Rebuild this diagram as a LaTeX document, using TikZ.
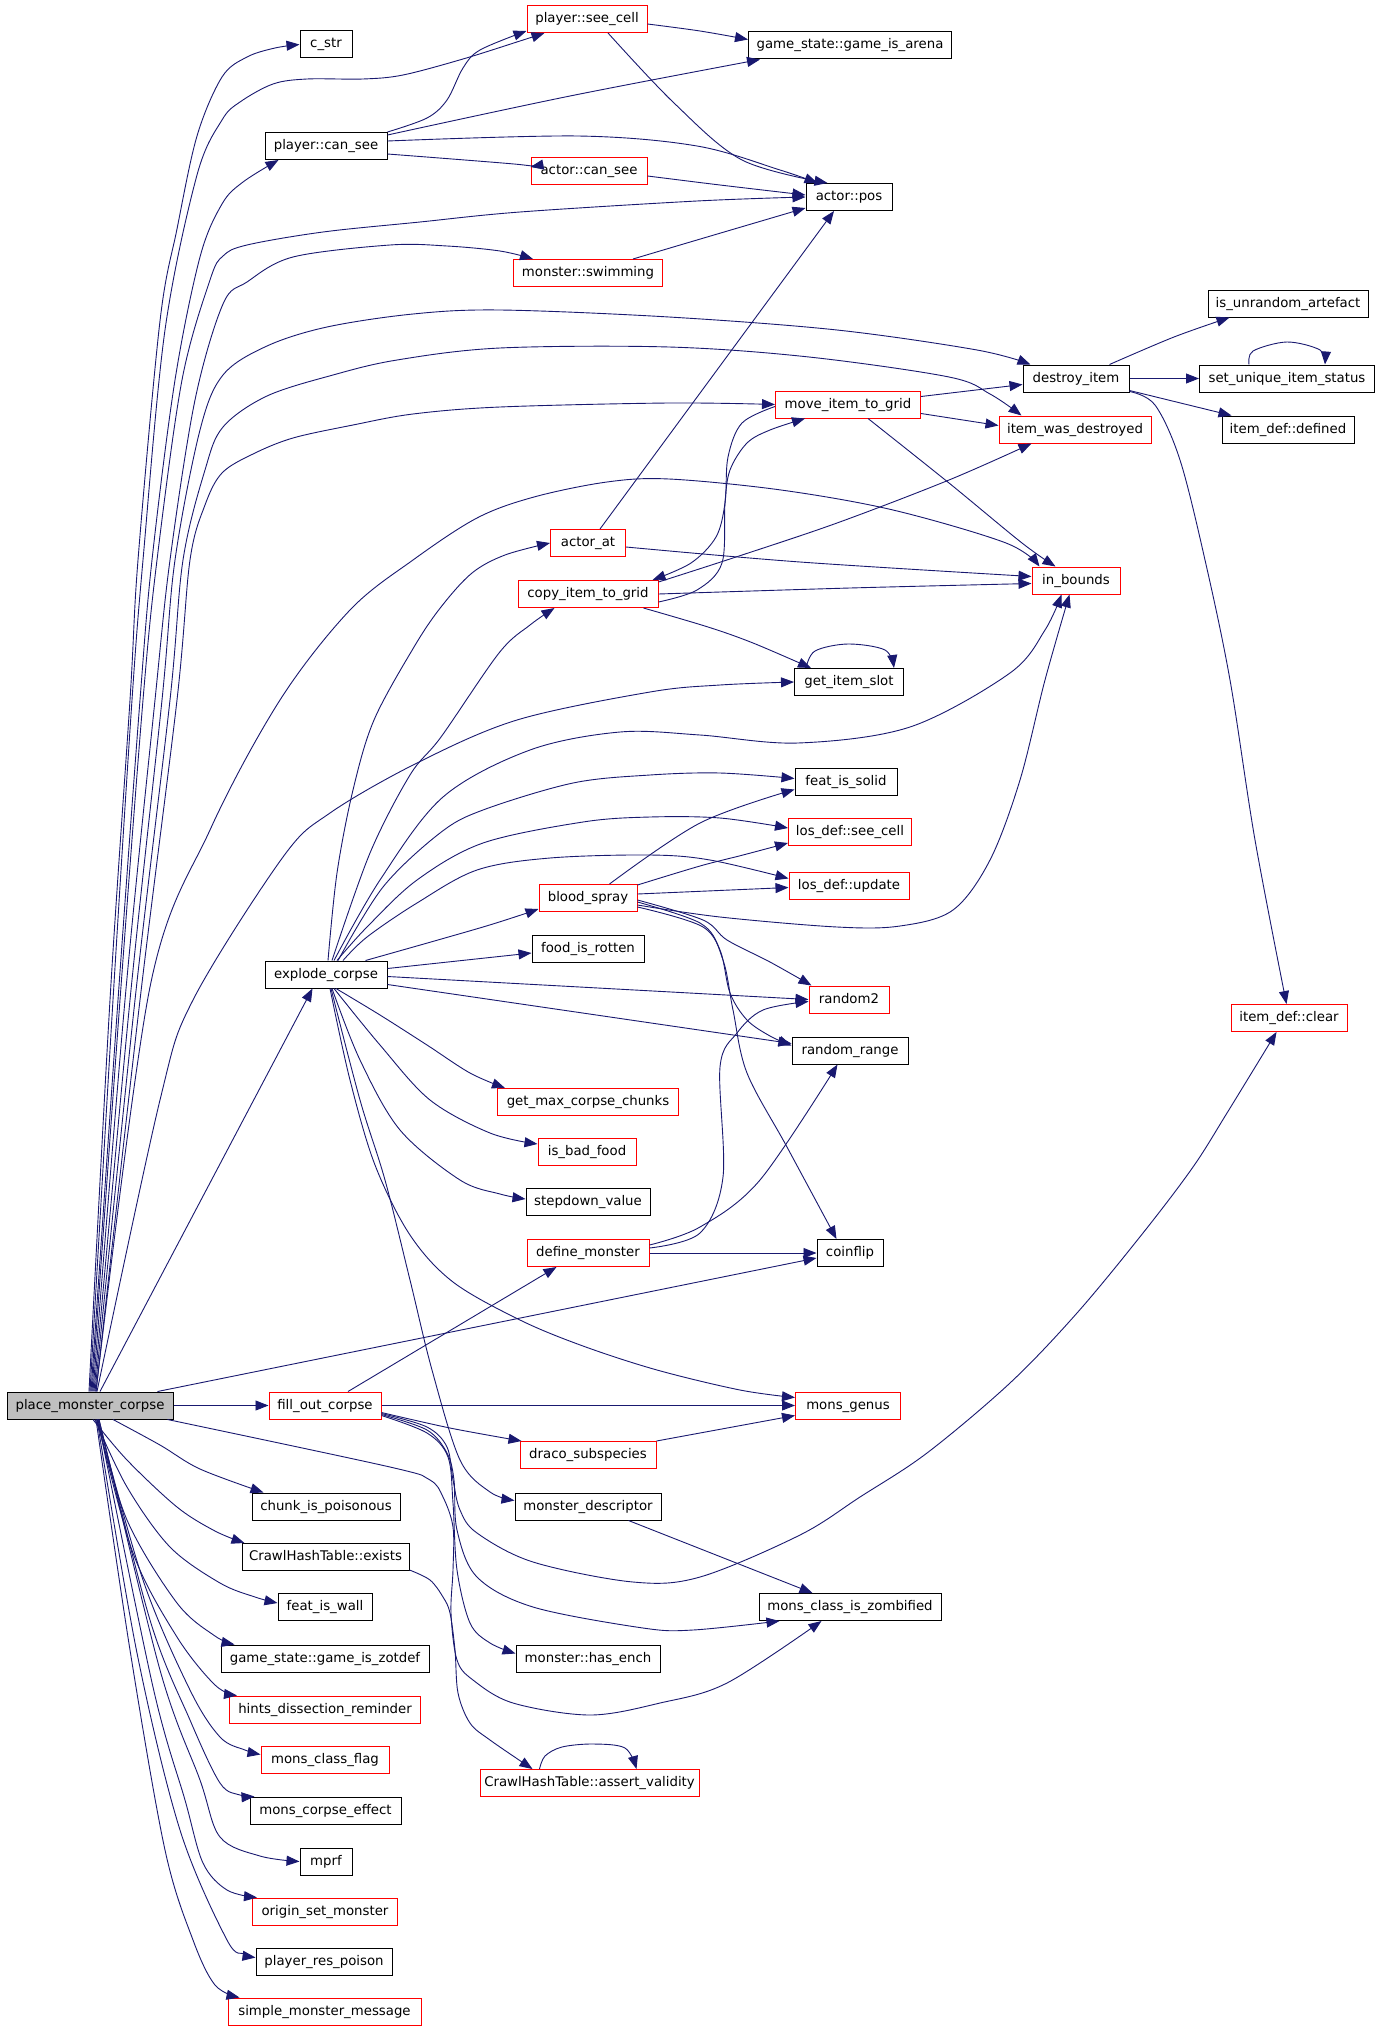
\documentclass[tikz,border=0pt]{standalone}
\usepackage{fontspec}
\setmainfont{DejaVu Sans}
\usetikzlibrary{arrows.meta,calc}
\definecolor{edgec}{HTML}{191970}
\definecolor{boxred}{HTML}{FF0000}
\definecolor{pmcfill}{HTML}{BFBFBF}
\begin{document}
\begin{tikzpicture}[x=1pt,y=-1pt,
  box/.style={draw=black, line width=1pt, rectangle, minimum height=27pt, inner sep=0pt, text height=10pt, text depth=3pt, font=\fontsize{13.3}{16}\selectfont},
  rbox/.style={box, draw=boxred},
  e/.style={draw=edgec, line width=0.9pt, -{Triangle[length=13pt,width=10pt]}},
  sm/.style={smooth, tension=0.55}]
\fill[white] (0,0) rectangle (1381,2031);
\useasboundingbox (0,0) rectangle (1381,2031);
% nodes
\node[box, fill=pmcfill, minimum width=166pt] (pmc) at (90,1405.5) {place\_monster\_corpse};
\node[box, minimum width=52pt] (cstr) at (326,44.5) {c\_str};
\node[rbox, minimum width=120pt] (seecell) at (587,19) {player::see\_cell};
\node[box, minimum width=203pt] (arena) at (850,45.5) {game\_state::game\_is\_arena};
\node[box, minimum width=122pt] (cansee) at (326,146) {player::can\_see};
\node[rbox, minimum width=116pt] (acansee) at (589,171) {actor::can\_see};
\node[box, minimum width=86pt] (apos) at (849,197) {actor::pos};
\node[rbox, minimum width=149pt] (swim) at (588,273) {monster::swimming};
\node[box, minimum width=160pt] (unrand) at (1288,303.5) {is\_unrandom\_artefact};
\node[box, minimum width=106pt] (destroy) at (1076,378.5) {destroy\_item};
\node[box, minimum width=175pt] (setuniq) at (1287,378.5) {set\_unique\_item\_status};
\node[rbox, minimum width=145pt] (move) at (848,404.5) {move\_item\_to\_grid};
\node[rbox, minimum width=152pt] (iwd) at (1075,429.5) {item\_was\_destroyed};
\node[box, minimum width=132pt] (defined) at (1288,429.5) {item\_def::defined};
\node[rbox, minimum width=75pt] (actorat) at (588,543) {actor\_at};
\node[rbox, minimum width=140pt] (copy) at (588,594) {copy\_item\_to\_grid};
\node[rbox, minimum width=88pt] (inb) at (1076,580.5) {in\_bounds};
\node[box, minimum width=109pt] (slot) at (849,682) {get\_item\_slot};
\node[box, minimum width=102pt] (solid) at (846,781.5) {feat\_is\_solid};
\node[rbox, minimum width=123pt] (lsee) at (850,832) {los\_def::see\_cell};
\node[rbox, minimum width=120pt] (lupd) at (849,885.5) {los\_def::update};
\node[rbox, minimum width=98pt] (blood) at (588,898) {blood\_spray};
\node[box, minimum width=112pt] (rotten) at (588,949) {food\_is\_rotten};
\node[box, minimum width=122pt] (explode) at (326,974.5) {explode\_corpse};
\node[rbox, minimum width=80pt] (random2) at (849,999.5) {random2};
\node[rbox, minimum width=116pt] (clear) at (1289,1018) {item\_def::clear};
\node[box, minimum width=116pt] (rrange) at (850,1050.5) {random\_range};
\node[rbox, minimum width=181pt] (gmcc) at (588,1102) {get\_max\_corpse\_chunks};
\node[rbox, minimum width=98pt] (badfood) at (587,1152) {is\_bad\_food};
\node[box, minimum width=124pt] (stepdown) at (588,1202) {stepdown\_value};
\node[rbox, minimum width=122pt] (define) at (588,1253) {define\_monster};
\node[box, minimum width=66pt] (coinflip) at (850,1253) {coinflip};
\node[rbox, minimum width=112pt] (fill) at (325,1405.5) {fill\_out\_corpse};
\node[rbox, minimum width=105pt] (genus) at (848,1405.5) {mons\_genus};
\node[rbox, minimum width=136pt] (draco) at (588,1455) {draco\_subspecies};
\node[box, minimum width=148pt] (chunk) at (326,1506.5) {chunk\_is\_poisonous};
\node[box, minimum width=146pt] (mdesc) at (588,1506.5) {monster\_descriptor};
\node[box, minimum width=167pt] (exists) at (325.5,1557) {CrawlHashTable::exists};
\node[box, minimum width=182pt] (zomb) at (850,1607) {mons\_class\_is\_zombified};
\node[box, minimum width=94pt] (wall) at (325,1607) {feat\_is\_wall};
\node[box, minimum width=208pt] (zotdef) at (325,1658.5) {game\_state::game\_is\_zotdef};
\node[box, minimum width=144pt] (ench) at (588,1658.5) {monster::has\_ench};
\node[rbox, minimum width=191pt] (hints) at (325,1709.5) {hints\_dissection\_reminder};
\node[rbox, minimum width=128pt] (flag) at (325,1759.5) {mons\_class\_flag};
\node[rbox, minimum width=219pt] (assert) at (589.5,1783) {CrawlHashTable::assert\_validity};
\node[box, minimum width=151pt] (ceff) at (325.5,1810.5) {mons\_corpse\_effect};
\node[box, minimum width=52pt] (mprf) at (326,1861.5) {mprf};
\node[rbox, minimum width=145pt] (origin) at (325,1911.5) {origin\_set\_monster};
\node[box, minimum width=136pt] (respoison) at (324,1961.5) {player\_res\_poison};
\node[rbox, minimum width=193pt] (simple) at (324.5,2011.5) {simple\_monster\_message};
% edges from place_monster_corpse (upwards)
\draw[e] plot[sm] coordinates {($(pmc.north)+(-1,0)$) (110,1000) (130,700) (138,560) (160,321) (177,229) (197,136) (222,77) (247,57) (275,48) (cstr.west)};
\draw[e] plot[sm] coordinates {($(pmc.north)+(0,0)$) (113,1000) (132,700) (143,560) (165,330) (197,175) (222,120) (240,102) (273,84) (307,79) (363,79) (403,75) (463,59) (520,41) ($(seecell.south west)+(18,0)$)};
\draw[e] plot[sm] coordinates {($(pmc.north)+(1,0)$) (118,1000) (140,700) (152,560) (175,380) (200,257) (222,204) (243,182) ($(cansee.south west)+(14,0)$)};
\draw[e] plot[sm] coordinates {($(pmc.north)+(2,0)$) (120,1000) (143,700) (157,560) (182,380) (210,280) (223,256) (247,245) (323,232) (420,222) (520,212) (697,201) (apos.west)};
\draw[e] plot[sm] coordinates {($(pmc.north)+(3,0)$) (125,1000) (155,700) (170,560) (195,400) (223,304) (247,282) (293,257) (390,245) (447,246) (500,251) ($(swim.north west)+(20,0)$)};
\draw[e] plot[sm] coordinates {($(pmc.north)+(4,0)$) (130,1000) (162,700) (175,560) (200,430) (223,375) (267,346) (327,327) (413,314) (500,310) (669,317) (837,330) (977,350) ($(destroy.north west)+(8,0)$)};
\draw[e] plot[sm] coordinates {($(pmc.north)+(5,0)$) (135,1000) (170,700) (183,560) (205,470) (223,427) (267,396) (333,375) (397,360) (500,348) (669,347) (809,357) (949,377) (990,394) ($(iwd.north west)+(23,0)$)};
\draw[e] plot[sm] coordinates {($(pmc.north)+(6,0)$) (140,1000) (177,700) (190,560) (205,505) (222,473) (253,454) (293,438) (353,425) (413,414) (500,407) (669,403) (move.west)};
\draw[e] plot[sm] coordinates {($(pmc.north)+(6,0)$) (150,987) (210,830) (280,700) (350,610) (413,560) (477,518) (534,497) (607,482) (669,479) (781,490) (893,510) (1006,543) ($(inb.north west)+(8,0)$)};
\draw[e] plot[sm] coordinates {($(pmc.north)+(7,0)$) (160,1100) (193,1000) (283,857) (330,813) (417,763) (517,720) (650,692) (720,685) (slot.west)};
\draw[e] ($(pmc.north)+(10,0)$) -- ($(explode.south west)+(48,0)$);
\draw[e] ($(pmc.north east)+(-16,0)$) -- ($(coinflip.west)+(0,5)$);
\draw[e] (pmc.east) -- (fill.west);
\draw[e] plot[sm] coordinates {($(pmc.south east)+(-6,0)$) (390,1467) (430,1480) (443,1497) (453,1527) (453,1570) (451,1613) (457,1660) (473,1680) (513,1703) (590,1715) (660,1703) (727,1683) ($(zomb.south west)+(63,0)$)};
% edges from place_monster_corpse (downwards)
\draw[e] plot[sm] coordinates {($(pmc.south)+(23,0)$) (160,1445) (200,1469) ($(chunk.north west)+(12,0)$)};
\draw[e] plot[sm] coordinates {($(pmc.south)+(3,0)$) (127,1460) (177,1507) (215,1531) ($(exists.north west)+(3,0)$)};
\draw[e] plot[sm] coordinates {($(pmc.south)+(5,0)$) (127,1487) (170,1547) (220,1583) (255,1597) ($(wall.west)+(0,-4)$)};
\draw[e] plot[sm] coordinates {($(pmc.south)+(7,0)$) (127,1520) (177,1603) (215,1636) ($(zotdef.north west)+(14,0)$)};
\draw[e] plot[sm] coordinates {($(pmc.south)+(7,0)$) (133,1553) (177,1637) (215,1685) ($(hints.north west)+(8,0)$)};
\draw[e] plot[sm] coordinates {($(pmc.south)+(8,0)$) (143,1580) (190,1690) (220,1737) (245,1750) ($(flag.west)+(0,-5)$)};
\draw[e] plot[sm] coordinates {($(pmc.south)+(9,0)$) (150,1620) (190,1720) (220,1783) (240,1795) ($(ceff.north west)+(5,0)$)};
\draw[e] plot[sm] coordinates {($(pmc.south)+(9,0)$) (160,1670) (200,1780) (220,1837) (260,1856) (mprf.west)};
\draw[e] plot[sm] coordinates {($(pmc.south)+(8,0)$) (153,1687) (185,1800) (203,1863) (227,1890) ($(origin.north west)+(5,0)$)};
\draw[e] plot[sm] coordinates {($(pmc.south)+(7,0)$) (137,1653) (180,1830) (227,1940) (245,1954) ($(respoison.west)+(0,-4)$)};
\draw[e] plot[sm] coordinates {($(pmc.south)+(6,0)$) (130,1650) (165,1850) (193,1940) (215,1985) ($(simple.north west)+(12,0)$)};
% fill_out_corpse
\draw[e] ($(fill.north)+(23,0)$) -- ($(define.south west)+(30,0)$);
\draw[e] (fill.east) -- (genus.west);
\draw[e] plot[sm] coordinates {($(fill.east)+(0,7)$) (450,1428) ($(draco.north west)+(2,0)$)};
\draw[e] ($(draco.north east)+(0,0)$) -- ($(genus.west)+(0,10)$);
\draw[e] plot[sm] coordinates {($(fill.east)+(0,8)$) (427,1427) (447,1447) (453,1480) (460,1510) (477,1533) (533,1562) (633,1582) (700,1577) (800,1535) (860,1497) (927,1453) (1010,1383) (1077,1313) (1143,1233) (1193,1167) (1227,1113) ($(clear.south west)+(46,0)$)};
\draw[e] plot[sm] coordinates {($(fill.east)+(0,9)$) (427,1430) (447,1453) (454,1480) (457,1530) (477,1577) (533,1607) (643,1628) (693,1630) ($(zomb.south west)+(21,0)$)};
\draw[e] plot[sm] coordinates {($(fill.east)+(0,10)$) (427,1433) (448,1457) (453,1503) (457,1570) (470,1623) (490,1643) ($(ench.west)+(0,-5)$)};
\draw[e] plot[sm] coordinates {($(exists.south east)+(0,-1)$) (430,1580) (443,1597) (450,1613) (455,1650) (458,1693) (470,1723) (490,1740) ($(assert.north west)+(53,0)$)};
\draw[e] ($(mdesc.south east)+(-33,0)$) -- ($(zomb.north west)+(54,0)$);
\draw[e] plot[sm] coordinates {($(assert.north west)+(60,0)$) (545,1756) (562,1747) (593,1744) (625,1748) ($(assert.north west)+(157,0)$)};
% explode_corpse
\draw[e] plot[sm] coordinates {($(explode.north)+(2,0)$) (337,873) (353,790) (374,720) (414,647) (441,607) (472,573) (505,555) (actorat.west)};
\draw[e] plot[sm] coordinates {($(explode.north)+(6,0)$) (370,853) (410,775) (441,737) (499,653) (530,625) ($(copy.south west)+(37,0)$)};
\draw[e] plot[sm] coordinates {($(explode.north)+(8,0)$) (380,880) (443,797) (530,750) (620,732) (700,735) (798,743) (910,727) (1010,673) (1045,630) ($(inb.south west)+(30,0)$)};
\draw[e] plot[sm] coordinates {($(explode.north)+(12,0)$) (383,887) (440,833) (483,810) (573,783) (650,775) (720,773) ($(solid.west)+(0,-3)$)};
\draw[e] plot[sm] coordinates {($(explode.north)+(11,0)$) (367,927) (417,880) (483,843) (583,822) (650,817) (720,818) ($(lsee.west)+(0,-4)$)};
\draw[e] plot[sm] coordinates {($(explode.north)+(17,0)$) (367,937) (417,903) (477,870) (550,858) (650,855) (710,860) ($(lupd.west)+(0,-7)$)};
\draw[e] plot[sm] coordinates {($(explode.north east)+(-22,0)$) (483,927) ($(blood.south west)+(0,-3)$)};
\draw[e] ($(explode.east)+(0,-6)$) -- ($(rotten.west)+(0,4)$);
\draw[e] ($(explode.east)+(0,2)$) -- (random2.west);
\draw[e] ($(explode.east)+(0,10)$) -- ($(rrange.west)+(0,-7)$);
\draw[e] plot[sm] coordinates {($(explode.south)+(10,0)$) (380,1015) (427,1045) (470,1073) ($(gmcc.north west)+(8,0)$)};
\draw[e] plot[sm] coordinates {($(explode.south)+(8,0)$) (380,1045) (430,1100) (490,1133) ($(badfood.west)+(0,-8)$)};
\draw[e] plot[sm] coordinates {($(explode.south)+(6,0)$) (360,1060) (400,1130) (460,1180) (500,1194) ($(stepdown.west)+(0,-3)$)};
\draw[e] plot[sm] coordinates {($(explode.south)+(4,0)$) (350,1080) (375,1165) (410,1235) (453,1282) (520,1320) (583,1346) (657,1370) (740,1390) ($(genus.west)+(0,-8)$)};
\draw[e] plot[sm] coordinates {($(explode.south)+(5,0)$) (360,1100) (385,1180) (410,1280) (432,1370) (460,1460) (490,1492) ($(mdesc.west)+(0,-6)$)};
% blood_spray
\draw[e] plot[sm] coordinates {($(blood.north east)+(-28,0)$) (700,823) ($(solid.west)+(0,8)$)};
\draw[e] plot[sm] coordinates {($(blood.north east)+(0,1)$) (700,866) (743,855) ($(lsee.south west)+(0,-3)$)};
\draw[e] ($(blood.east)+(0,-4)$) -- ($(lupd.west)+(0,2)$);
\draw[e] plot[sm] coordinates {($(blood.east)+(0,7)$) (720,917) (837,927) (900,926) (953,910) (990,860) (1020,780) (1045,680) ($(inb.south west)+(38,0)$)};
\draw[e] plot[sm] coordinates {($(blood.east)+(0,2)$) (703,920) (727,940) (770,962) ($(random2.north west)+(3,0)$)};
\draw[e] plot[sm] coordinates {($(blood.east)+(0,4)$) (700,923) (720,950) (730,993) (747,1020) (770,1036) ($(rrange.west)+(0,-5)$)};
\draw[e] plot[sm] coordinates {($(blood.east)+(0,9)$) (703,927) (723,960) (733,1010) (747,1073) (787,1147) ($(coinflip.north west)+(20,0)$)};
% define_monster
\draw[e] plot[sm] coordinates {($(define.east)+(0,-5)$) (700,1233) (723,1177) (720,1067) (737,1033) (763,1010) ($(random2.west)+(0,2)$)};
\draw[e] plot[sm] coordinates {($(define.east)+(0,-8)$) (700,1227) (760,1180) ($(rrange.south west)+(46,0)$)};
\draw[e] (define.east) -- (coinflip.west);
% player::can_see and friends
\draw[e] plot[sm] coordinates {(cansee.north east) (427,118) (447,100) (463,68) (480,50) ($(seecell.south west)+(0,-2)$)};
\draw[e] plot[sm] coordinates {($(cansee.north east)+(0,3)$) (570,96) ($(arena.south west)+(12,0)$)};
\draw[e] plot[sm] coordinates {($(cansee.east)+(0,-5)$) (578,136) (697,146) (780,170) ($(apos.north west)+(12,0)$)};
\draw[e] plot[sm] coordinates {($(cansee.east)+(0,8)$) (514,164) ($(acansee.west)+(0,-4)$)};
\draw[e] plot[sm] coordinates {($(seecell.east)+(0,5)$) (700,31) ($(arena.west)+(0,-6)$)};
\draw[e] plot[sm] coordinates {($(seecell.south)+(21,0)$) (674,103) (742,160) ($(apos.north west)+(22,0)$)};
\draw[e] plot[sm] coordinates {($(acansee.east)+(0,5)$) (720,185) ($(apos.west)+(0,-2)$)};
\draw[e] plot[sm] coordinates {($(swim.north east)+(-30,0)$) (697,240) ($(apos.south west)+(0,-3)$)};
\draw[e] ($(actorat.north)+(12,0)$) -- ($(apos.south)+(-15,0)$);
% items
\draw[e] plot[sm] coordinates {($(actorat.east)+(0,4)$) (800,562) ($(inb.west)+(0,-4)$)};
\draw[e] plot[sm] coordinates {(copy.east) (850,588) ($(inb.west)+(0,3)$)};
\draw[e] plot[sm] coordinates {($(copy.east)+(0,8)$) (697,590) (722,563) (725,503) (730,470) (747,443) (770,430) ($(move.south west)+(30,0)$)};
\draw[e] plot[sm] coordinates {($(move.west)+(0,2)$) (742,423) (728,457) (725,503) (716,537) (691,563) ($(copy.north east)+(-6,0)$)};
\draw[e] plot[sm] coordinates {($(copy.north east)+(0,2)$) (736,557) (837,523) (949,480) ($(iwd.south west)+(33,0)$)};
\draw[e] ($(move.east)+(0,-8)$) -- ($(destroy.west)+(0,6)$);
\draw[e] ($(move.east)+(0,9)$) -- ($(iwd.west)+(0,-4)$);
\draw[e] plot[sm] coordinates {($(move.south)+(20,0)$) (949,483) (1022,543) ($(inb.north west)+(24,0)$)};
\draw[e] plot[sm] coordinates {($(copy.south east)+(-15,0)$) (708,627) (753,643) ($(slot.north west)+(17,0)$)};
\draw[e] plot[sm] coordinates {($(slot.north west)+(12,0)$) (815,651) (848,644) (885,650) ($(slot.north east)+(-10,0)$)};
\draw[e] plot[sm] coordinates {($(destroy.north east)+(-20,0)$) (1174,337) ($(unrand.south west)+(22,0)$)};
\draw[e] (destroy.east) -- (setuniq.west);
\draw[e] ($(destroy.south east)+(0,-2)$) -- ($(defined.north west)+(10,0)$);
\draw[e] plot[sm] coordinates {($(destroy.south east)+(0,-1)$) (1155,405) (1180,460) (1205,560) (1230,680) (1255,840) ($(clear.north west)+(56,0)$)};
\draw[e] plot[sm] coordinates {($(setuniq.north west)+(50,0)$) (1253,351) (1287,342) (1320,350) ($(setuniq.north west)+(126,0)$)};
\end{tikzpicture}
\end{document}
